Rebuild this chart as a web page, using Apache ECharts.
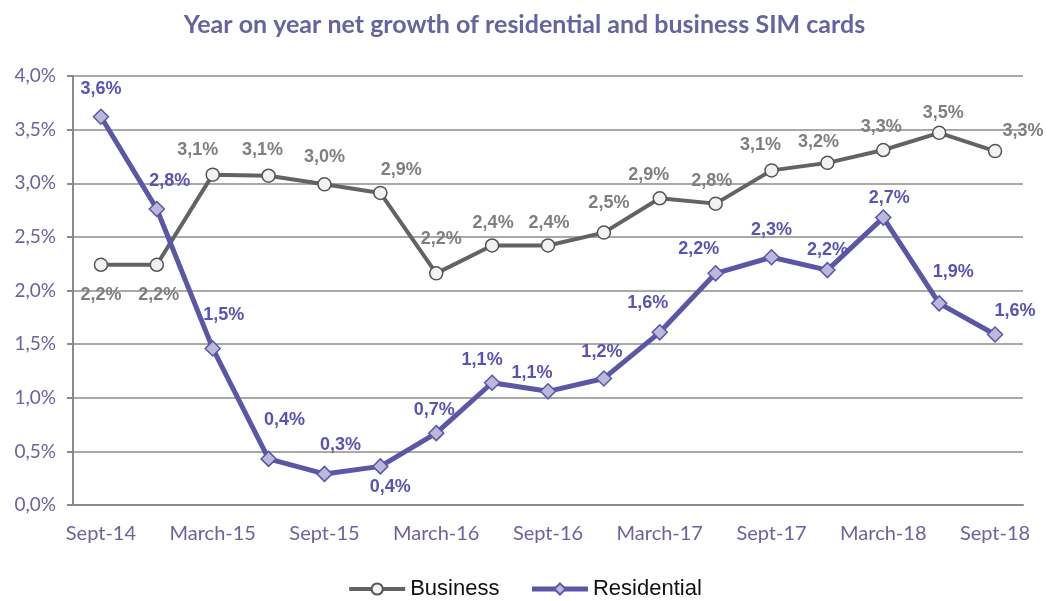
<!DOCTYPE html>
<html>
<head>
<meta charset="utf-8">
<script src="https://cdn.jsdelivr.net/npm/echarts@6/dist/echarts.min.js"></script>
<style>
  html, body { margin: 0; padding: 0; background: #fff; }
  #chart { width: 1049px; height: 601px; }
</style>
</head>
<body>
<div id="chart"></div>
<script>
// quarters, labels shown every other one
var categories = ['Sept-14', 'Dec-14', 'March-15', 'June-15', 'Sept-15', 'Dec-15', 'March-16', 'June-16',
  'Sept-16', 'Dec-16', 'March-17', 'June-17', 'Sept-17', 'Dec-17', 'March-18', 'June-18', 'Sept-18'];

var business = [2.24, 2.24, 3.08, 3.07, 2.99, 2.91, 2.16, 2.42, 2.42, 2.54, 2.86, 2.81, 3.12, 3.19, 3.31, 3.47, 3.30];
var residential = [3.62, 2.76, 1.46, 0.43, 0.29, 0.36, 0.67, 1.14, 1.06, 1.18, 1.61, 2.16, 2.31, 2.19, 2.68, 1.88, 1.59];

var yTicks = [0, 0.5, 1, 1.5, 2, 2.5, 3, 3.5, 4];

// label nudges (px) so they sit like the original
var businessLabelShift = [[0, 30], [2, 30], [-15, -25], [-6, -26], [0, -27], [21, -23], [5, -34], [1, -22], [1, -22],
  [5, -30], [-11, -23], [-4, -23], [-11, -25], [-9, -21], [-2, -23], [4, -20], [28, -20]];
var residentialLabelShift = [[0, -28], [13, -28], [11, -33], [16, -39], [16, -29], [10, 21], [-2, -23], [-10, -23],
  [-16, -18], [-2, -26], [-12, -29], [-17, -24], [0, -27], [0, -20], [6, -20], [14, -31], [20, -23]];

function pct(v) {
  return v.toFixed(1).replace('.', ',') + '%';
}

function withLabels(values, shifts, color) {
  return values.map(function (v, i) {
    return {
      value: v,
      label: {
        show: true,
        position: 'inside',
        offset: shifts[i],
        formatter: pct(v),
        color: color,
        fontFamily: 'Liberation Sans',
        fontWeight: 'bold',
        fontSize: 18
      }
    };
  });
}

var mchart = echarts.init(document.getElementById('chart'));

var option = {
  animation: false,
  title: {
    text: 'Year on year net growth of residential and business SIM cards',
    left: 'center',
    top: 7,
    textStyle: {
      fontFamily: 'Lato',
      fontWeight: 'bold',
      fontSize: 25,
      color: '#66639e'
    }
  },
  legend: {
    top: 578,
    left: 'center',
    padding: 0,
    itemWidth: 56,
    itemHeight: 14,
    itemGap: 30,
    textStyle: {
      fontFamily: 'Liberation Sans',
      fontSize: 22,
      color: '#111'
    },
    data: [
      { name: 'Business', lineStyle: { width: 4 } },
      { name: 'Residential', lineStyle: { width: 5 } }
    ]
  },
  grid: {
    left: 73,
    right: 26,
    top: 76,
    bottom: 96
  },
  xAxis: {
    type: 'category',
    data: categories,
    boundaryGap: true,
    axisLine: { lineStyle: { color: '#8a8a8a', width: 2 } },
    axisTick: { interval: 3, length: 6, lineStyle: { color: '#8a8a8a', width: 2 } },
    axisLabel: {
      interval: 1,
      margin: 19,
      fontFamily: 'Lato',
      fontSize: 20,
      color: '#68649f'
    }
  },
  yAxis: {
    type: 'value',
    min: yTicks[0],
    max: yTicks[yTicks.length - 1],
    interval: 0.5,
    axisLine: { show: true, lineStyle: { color: '#8a8a8a', width: 2 } },
    axisTick: { show: true, inside: false, length: 6, lineStyle: { color: '#8a8a8a', width: 2 } },
    splitLine: { lineStyle: { color: '#8c8c8c', width: 1.5 } },
    axisLabel: {
      margin: 17,
      fontFamily: 'Lato',
      fontSize: 19,
      color: '#68649f',
      formatter: function (v) { return pct(v); }
    }
  },
  series: [
    {
      name: 'Business',
      type: 'line',
      data: withLabels(business, businessLabelShift, '#7f7f7f'),
      symbol: 'circle',
      symbolSize: 13,
      lineStyle: { color: '#636363', width: 4 },
      itemStyle: { color: '#f2f2f2', borderColor: '#555', borderWidth: 1.5 },
      z: 2
    },
    {
      name: 'Residential',
      type: 'line',
      data: withLabels(residential, residentialLabelShift, '#5953b3'),
      symbol: 'diamond',
      symbolSize: 15,
      lineStyle: { color: '#5b57a6', width: 5 },
      itemStyle: { color: '#bcb8dc', borderColor: '#5b57a6', borderWidth: 1.5 },
      z: 3
    }
  ]
};

mchart.setOption(option);
</script>
</body>
</html>
